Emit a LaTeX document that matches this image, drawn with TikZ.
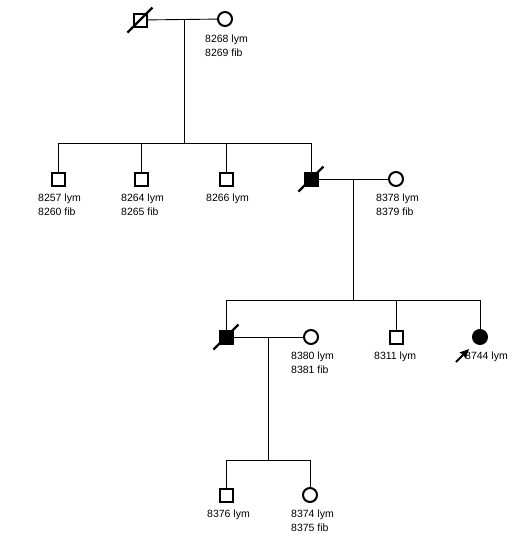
\documentclass[tikz,border=0pt]{standalone}
\usepackage{fontspec}
\setmainfont{Liberation Sans}
\usetikzlibrary{arrows.meta,positioning,calc}

\begin{document}
\begin{tikzpicture}[x=1pt, y=-1pt, >=Stealth,
  male/.style={draw, line width=2pt, minimum size=13pt, inner sep=0pt},
  female/.style={draw, circle, line width=2pt, minimum size=14pt, inner sep=0pt},
  affected/.style={fill=black},
  link/.style={line width=0.9pt},
  slash/.style={line width=2.2pt},
  lbl/.style={anchor=north west, inner sep=0pt, align=left, font=\fontsize{10.5}{14}\selectfont}]

\useasboundingbox[fill=white] (0,0) rectangle (528,552);

% generation I
\node[male] (p1) at (140,20) {};
\node[female] (p2) at (225,19) {};
\draw[slash] ([shift={(-5,5)}]p1.south west) -- ([shift={(5,-5)}]p1.north east);
\node[lbl] at (205,35) {8268 lym\\8269 fib};

% generation II
\foreach \n/\x in {p3/58,p4/141,p5/226}{
  \node[male] (\n) at (\x,179) {};
}
\node[male, affected] (p6) at (311,179) {};
\node[female] (p7) at (396,179) {};
\draw[slash] ([shift={(-5,5)}]p6.south west) -- ([shift={(5,-5)}]p6.north east);
\node[lbl] at (38,194) {8257 lym\\8260 fib};
\node[lbl] at (121,194) {8264 lym\\8265 fib};
\node[lbl] at (206,194) {8266 lym};
\node[lbl] at (376,194) {8378 lym\\8379 fib};

% generation III
\node[male, affected] (p8) at (226,337) {};
\node[female] (p9) at (311,337) {};
\node[male] (p10) at (396,337) {};
\node[female, affected] (p11) at (480,337) {};
\draw[slash] ([shift={(-5,5)}]p8.south west) -- ([shift={(5,-5)}]p8.north east);
\node[lbl] at (291,352) {8380 lym\\8381 fib};
\node[lbl] at (374,352) {8311 lym};
\node[lbl] at (465,352) {8744 lym};

% generation IV
\node[male] (p12) at (226,495) {};
\node[female] (p13) at (310,495) {};
\node[lbl] at (207,510) {8376 lym};
\node[lbl] at (291,510) {8374 lym\\8375 fib};

% matings and descent
\coordinate (m1) at (184,19);  \coordinate (s1) at (184,143);
\coordinate (m2) at (353,179); \coordinate (s2) at (353,300);
\coordinate (m3) at (268,337); \coordinate (s3) at (268,460);
\draw[link] (p1) -- (p2);
\draw[link] (p6) -- (p7);
\draw[link] (p8) -- (p9);
\draw[link] (m1) -- (s1);
\draw[link] (m2) -- (s2);
\draw[link] (m3) -- (s3);
\draw[link] (p3 |- s1) -- (p6 |- s1);
\draw[link] (p8 |- s2) -- (p11 |- s2);
\draw[link] (p12 |- s3) -- (p13 |- s3);
\foreach \c/\s in {p3/s1,p4/s1,p5/s1,p6/s1,p8/s2,p10/s2,p11/s2,p12/s3,p13/s3}{
  \draw[link] (\c |- \s) -- (\c);
}

% proband
\coordinate (a1) at (456,362);
\coordinate (a2) at (469,349);
\draw[->, line width=2pt, >={Stealth[length=9pt,width=8pt,inset=1pt]}] (a1) -- (a2);

\end{tikzpicture}
\end{document}
